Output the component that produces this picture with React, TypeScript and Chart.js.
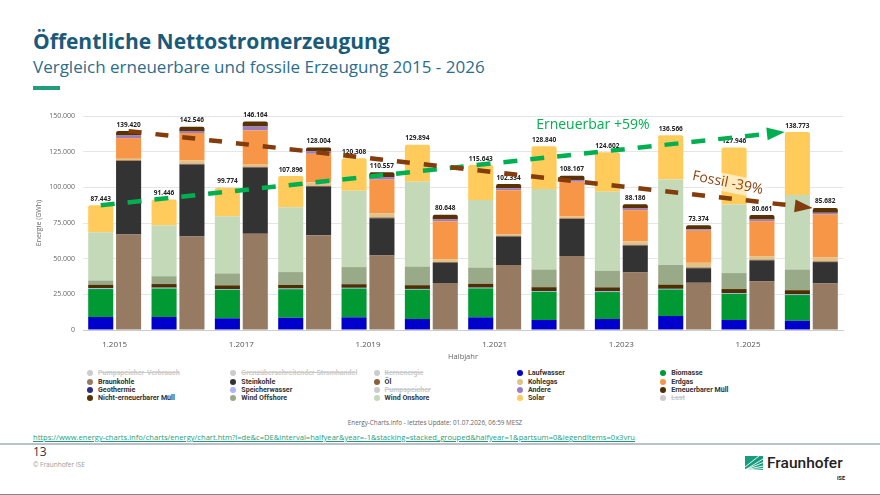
import React, { useEffect, useRef } from "react";
import { Chart, registerables } from "chart.js";

Chart.register(...registerables);

// ---------- data ----------
const categories = ["1.2015", "1.2016", "1.2017", "1.2018", "1.2019", "1.2020", "1.2021", "1.2022", "1.2023", "1.2024", "1.2025", "1.2026"];

// renewable (GWh)
const laufwasser = [9100, 9100, 8200, 8600, 8900, 7700, 8900, 7000, 7700, 9800, 7000, 6500];
const biomasse = [19600, 20000, 20000, 20000, 20200, 20600, 20300, 19800, 18900, 18600, 18300, 18000];
const speicherwasser = [500, 500, 400, 400, 400, 400, 400, 400, 400, 400, 400, 400];
const geothermie = [100, 100, 100, 100, 100, 100, 100, 100, 100, 100, 100, 100];
const erneuerbarerMuell = [2400, 2500, 2600, 2500, 2500, 2600, 2700, 2700, 2800, 2900, 2900, 2900];
const windOffshore = [3000, 5500, 8400, 9000, 12000, 13000, 11300, 12400, 11500, 13900, 11200, 14500];
const windOnshore = [33900, 35700, 40100, 45500, 53500, 59500, 47400, 56500, 55500, 59800, 48000, 52300];
const solar = [18800, 18000, 19900, 21800, 22700, 26000, 24500, 29900, 27700, 31000, 40000, 44100];

// fossil (GWh)
const braunkohle = [67000, 65600, 67400, 66500, 52300, 32900, 45500, 51800, 40400, 33100, 34100, 32700];
const steinkohle = [51500, 50400, 46500, 34000, 26000, 14300, 20000, 26000, 18800, 10200, 14700, 14900];
const oel = [500, 500, 500, 500, 600, 500, 500, 500, 500, 500, 500, 500];
const kohlegas = [1000, 2300, 1500, 2500, 3000, 2000, 1200, 1200, 2500, 3300, 2500, 2800];
const erdgas = [14500, 19300, 24000, 20000, 23500, 26500, 30800, 24400, 21800, 22500, 24500, 30000];
const andere = [1800, 1400, 2800, 1800, 1800, 1500, 1400, 1300, 1200, 1000, 1200, 1200];
const nichtErnMuell = [3100, 3000, 3400, 2700, 3300, 3000, 2900, 2900, 3000, 2800, 3100, 3500];

// stack totals shown above the bars
const renewableTotals = [87443, 91446, 99774, 107896, 120308, 129894, 115643, 128840, 124602, 136566, 127946, 138773];
const fossilTotals = [139420, 142546, 146164, 128004, 110557, 80648, 102334, 108167, 88186, 73374, 80661, 85682];

const yTicksMax = 150000;
const yTickStep = 25000;

const renewableLabel = "Erneuerbar +59%";
const fossilLabel = "Fossil -39%";

// legend (row-major, 5 columns)
const legendNames = [
  "Pumpspeicher-Verbrauch", "Grenzüberschreitender Stromhandel", "Kernenergie", "Laufwasser", "Biomasse",
  "Braunkohle", "Steinkohle", "Öl", "Kohlegas", "Erdgas",
  "Geothermie", "Speicherwasser", "Pumpspeicher", "Andere", "Erneuerbarer Müll",
  "Nicht-erneuerbarer Müll", "Wind Offshore", "Wind Onshore", "Solar", "Last",
];
const legendColors = [
  "#cccccc", "#cccccc", "#cccccc", "#0000cc", "#009933",
  "#967a62", "#333333", "#8b5e3c", "#e2c287", "#f79646",
  "#2b2b8c", "#a8b8ff", "#cccccc", "#9b7ec2", "#4d2e00",
  "#5a3100", "#99aa88", "#c4d9b8", "#ffcc5c", "#cccccc",
];
const legendHidden = [
  true, true, true, false, false,
  false, false, false, false, false,
  false, false, true, false, false,
  false, false, false, false, true,
];

const C = {
  laufwasser: "#0000cc",
  biomasse: "#009933",
  speicherwasser: "#a8b8ff",
  geothermie: "#2b2b8c",
  erneuerbarerMuell: "#4d2e00",
  windOffshore: "#99aa88",
  windOnshore: "#c4d9b8",
  solar: "#ffcc5c",
  braunkohle: "#967a62",
  steinkohle: "#333333",
  oel: "#8b5e3c",
  kohlegas: "#e2c287",
  erdgas: "#f79646",
  andere: "#9b7ec2",
  nichtErnMuell: "#5a3100",
};

const fmt = (v: number) => String(Math.round(v)).replace(/\B(?=(\d{3})+(?!\d))/g, ".");

const FONT = '"Open Sans", "Noto Sans", sans-serif';

function drawArrow(ctx: CanvasRenderingContext2D, x1: number, y1: number, x2: number, y2: number, color: string, dash: number[]) {
  const ang = Math.atan2(y2 - y1, x2 - x1);
  const head = 18;
  const hw = 6.5;
  const bx = x2 - head * Math.cos(ang);
  const by = y2 - head * Math.sin(ang);
  ctx.save();
  ctx.strokeStyle = color;
  ctx.lineWidth = 4.5;
  ctx.lineCap = "butt";
  ctx.setLineDash(dash);
  ctx.beginPath();
  ctx.moveTo(x1, y1);
  ctx.lineTo(bx, by);
  ctx.stroke();
  ctx.setLineDash([]);
  ctx.fillStyle = color;
  ctx.beginPath();
  ctx.moveTo(x2, y2);
  ctx.lineTo(bx - hw * Math.sin(ang), by + hw * Math.cos(ang));
  ctx.lineTo(bx + hw * Math.sin(ang), by - hw * Math.cos(ang));
  ctx.closePath();
  ctx.fill();
  ctx.restore();
}

const overlayPlugin = {
  id: "overlay",
  afterDraw(chart: any) {
    const ctx: CanvasRenderingContext2D = chart.ctx;
    const n = chart.data.datasets.length;
    const renTop = chart.getDatasetMeta(7).data as any[];
    const fosTop = chart.getDatasetMeta(n - 1).data as any[];
    const xs = chart.scales.x;
    const ys = chart.scales.y;
    ctx.save();
    // totals
    ctx.font = `bold 6.5px ${FONT}`;
    ctx.fillStyle = "#222";
    ctx.textAlign = "center";
    ctx.textBaseline = "bottom";
    categories.forEach((_, i) => {
      ctx.fillText(fmt(renewableTotals[i]), renTop[i].x, renTop[i].y - 3);
      ctx.fillText(fmt(fossilTotals[i]), fosTop[i].x, fosTop[i].y - 3);
    });
    const last = categories.length - 1;
    // trend arrows
    drawArrow(ctx, renTop[0].x, renTop[0].y, renTop[last].x - renTop[last].width / 2, renTop[last].y, "#00b050", [14, 13]);
    drawArrow(ctx, fosTop[0].x, fosTop[0].y, fosTop[last].x - fosTop[last].width / 2, fosTop[last].y, "#843c0c", [13, 14]);

    // annotation texts
    ctx.font = `14px ${FONT}`;
    ctx.textAlign = "center";
    ctx.textBaseline = "middle";
    ctx.fillStyle = "#00b050";
    ctx.fillText(renewableLabel, xs.getPixelForValue(7.55), ys.getPixelForValue(143700));

    const fx = xs.getPixelForValue(9.68);
    const fy = ys.getPixelForValue(103000);
    ctx.translate(fx, fy);
    ctx.rotate(0.2);
    const w = ctx.measureText(fossilLabel).width;
    ctx.fillStyle = "rgba(255,255,255,0.6)";
    ctx.fillRect(-w / 2 - 3, -9, w + 6, 18);
    ctx.fillStyle = "#8b4513";
    ctx.fillText(fossilLabel, 0, 0);
    ctx.restore();
  },
};

export default function App() {
  const ref = useRef<HTMLCanvasElement>(null);

  useEffect(() => {
    if (!ref.current) return;
    const common = { categoryPercentage: 0.88, barPercentage: 0.9, borderWidth: 0, borderRadius: 2, borderSkipped: "start" as const };
    const ren = (label: string, data: number[], color: string) => ({ label, data, backgroundColor: color, stack: "erneuerbar", ...common });
    const fos = (label: string, data: number[], color: string) => ({ label, data, backgroundColor: color, stack: "fossil", ...common });

    const chart = new Chart(ref.current, {
      type: "bar",
      data: {
        labels: categories,
        datasets: [
          ren("Laufwasser", laufwasser, C.laufwasser),
          ren("Biomasse", biomasse, C.biomasse),
          ren("Speicherwasser", speicherwasser, C.speicherwasser),
          ren("Geothermie", geothermie, C.geothermie),
          ren("Erneuerbarer Müll", erneuerbarerMuell, C.erneuerbarerMuell),
          ren("Wind Offshore", windOffshore, C.windOffshore),
          ren("Wind Onshore", windOnshore, C.windOnshore),
          ren("Solar", solar, C.solar),
          fos("Braunkohle", braunkohle, C.braunkohle),
          fos("Steinkohle", steinkohle, C.steinkohle),
          fos("Öl", oel, C.oel),
          fos("Kohlegas", kohlegas, C.kohlegas),
          fos("Erdgas", erdgas, C.erdgas),
          fos("Andere", andere, C.andere),
          fos("Nicht-erneuerbarer Müll", nichtErnMuell, C.nichtErnMuell),
        ] as any,
      },
      options: {
        responsive: false,
        animation: false,
        devicePixelRatio: 1,
        layout: { padding: { top: 16, right: 17, bottom: 0, left: 0 } },
        plugins: { legend: { display: false }, tooltip: { enabled: false } },
        scales: {
          x: {
            stacked: true,
            grid: { display: false, drawTicks: false },
            border: { display: true, color: "#cccccc", width: 1 },
            ticks: {
              autoSkip: false,
              maxRotation: 0,
              padding: 10,
              color: "#555",
              font: { size: 8, family: FONT },
              callback: (_v: any, i: number) => (i % 2 === 0 ? categories[i] : ""),
            },
            title: { display: true, text: "Halbjahr", color: "#666", font: { size: 7.5, family: FONT }, padding: { top: 0, bottom: 4 } },
            afterFit: (s: any) => { s.height = 35; },
          },
          y: {
            stacked: true,
            min: 0,
            max: yTicksMax,
            ticks: { stepSize: yTickStep, padding: 8, color: "#666", font: { size: 7, family: FONT }, callback: (v: any) => fmt(Number(v)) },
            grid: { color: "#e6e6e6", drawTicks: false },
            border: { display: false },
            title: { display: true, text: "Energie (GWh)", color: "#666", font: { size: 7, family: FONT }, padding: { top: 15, bottom: 0 } },
            afterFit: (s: any) => { s.width = 63; },
          },
        },
      } as any,
      plugins: [overlayPlugin as any],
    });
    return () => chart.destroy();
  }, []);

  const abs = (o: React.CSSProperties): React.CSSProperties => ({ position: "absolute", whiteSpace: "nowrap", ...o });

  return (
    <div style={{ position: "fixed", left: 0, top: 0, width: 880, height: 495, background: "#fff", overflow: "hidden", fontFamily: FONT }}>
      <div style={abs({ left: 33, top: 28, fontSize: 21, fontWeight: 700, color: "#1a5a7a", lineHeight: "26px" })}>Öffentliche Nettostromerzeugung</div>
      <div style={abs({ left: 33, top: 55.5, fontSize: 17, color: "#2b6d8c", lineHeight: "22px" })}>Vergleich erneuerbare und fossile Erzeugung 2015 - 2026</div>
      <div style={abs({ left: 33, top: 86, width: 27, height: 3.5, background: "#1e9e7e" })} />

      <canvas ref={ref} width={840} height={265} style={{ position: "absolute", left: 20, top: 100, width: 840, height: 265 }} />

      {legendNames.map((name, i) => {
        const col = i % 5;
        const row = Math.floor(i / 5);
        const cx = 90 + col * 143.3;
        const cy = 373.3 + row * 8.3;
        return (
          <React.Fragment key={name}>
            <div style={abs({ left: cx - 3, top: cy - 3, width: 6, height: 6, borderRadius: 3, background: legendColors[i] })} />
            <div
              style={abs({
                left: cx + 8,
                top: cy - 5,
                height: 10,
                lineHeight: "10px",
                fontSize: 7.1,
                fontWeight: 700,
                fontFamily: "Roboto, sans-serif",
                color: legendHidden[i] ? "#cccccc" : "#333333",
                textDecoration: legendHidden[i] ? "line-through" : "none",
              })}
            >
              {name}
            </div>
          </React.Fragment>
        );
      })}

      <div style={abs({ left: 0, width: 870, top: 418, textAlign: "center", fontSize: 6.3, color: "#666", lineHeight: "9px" })}>
        Energy-Charts.info - letztes Update: 01.07.2026, 06:59 MESZ
      </div>
      <div style={abs({ left: 33, top: 432, fontSize: 7.6, color: "#1f9c7c", textDecoration: "underline", lineHeight: "10px" })}>
        https://www.energy-charts.info/charts/energy/chart.htm?l=de&amp;c=DE&amp;interval=halfyear&amp;year=-1&amp;stacking=stacked_grouped&amp;halfyear=1&amp;partsum=0&amp;legendItems=0x3vru
      </div>
      <div style={abs({ left: 0, top: 442.5, width: 880, height: 2, background: "#b8c4cc" })} />
      <div style={abs({ left: 33, top: 444, fontSize: 12, color: "#333", lineHeight: "16px" })}>13</div>
      <div style={abs({ left: 33, top: 460, fontSize: 6.5, color: "#999", lineHeight: "10px" })}>© Fraunhofer ISE</div>

      <svg style={{ position: "absolute", left: 745, top: 456 }} width={18} height={14} viewBox="0 0 18 14">
        <rect x={0} y={0} width={18} height={14} fill="#179c7d" />
        <path d="M0 14 L18 3 M0 14 L18 6.5 M0 14 L18 10 M3 14 L18 12.5 M0 11 L14 0" stroke="#fff" strokeWidth={0.9} fill="none" />
      </svg>
      <div style={abs({ left: 767, top: 453, fontSize: 15.5, fontWeight: 500, fontFamily: "Roboto, sans-serif", color: "#222", lineHeight: "20px" })}>Fraunhofer</div>
      <div style={abs({ left: 837, top: 474, fontSize: 5.5, fontWeight: 700, fontFamily: "Roboto, sans-serif", color: "#222", lineHeight: "8px" })}>ISE</div>
      <div style={abs({ left: 0, top: 494, width: 880, height: 1, background: "#888" })} />
    </div>
  );
}
